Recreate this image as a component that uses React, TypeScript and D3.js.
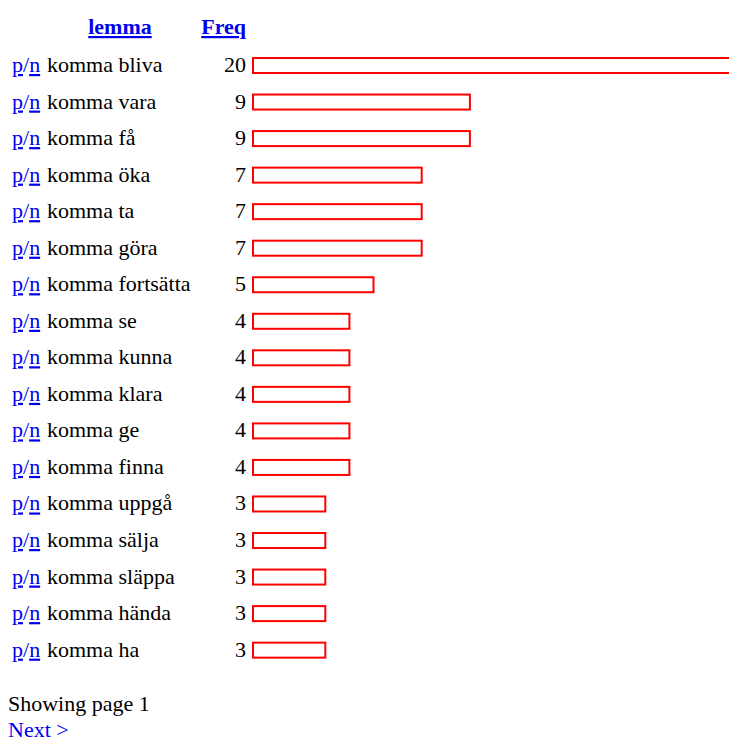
import { useRef, useEffect } from 'react';
import { select, scaleLinear, scaleBand } from 'd3';

const lemmas = [
  'komma bliva',
  'komma vara',
  'komma få',
  'komma öka',
  'komma ta',
  'komma göra',
  'komma fortsätta',
  'komma se',
  'komma kunna',
  'komma klara',
  'komma ge',
  'komma finna',
  'komma uppgå',
  'komma sälja',
  'komma släppa',
  'komma hända',
  'komma ha',
];
const freqs = [20, 9, 9, 7, 7, 7, 5, 4, 4, 4, 4, 4, 3, 3, 3, 3, 3];

const WIDTH = 729;
const HEIGHT = 740;
const LINK = '#0000EE';
const FONT = 'Liberation Serif';

const STEP = 36.54;
const PAD_IN = 0.5895;
const PAD_OUT = 0.3;

const App = () => {
  const svgRef = useRef(null);

  useEffect(() => {
    const svg = select(svgRef.current);
    svg.selectAll('*').remove();

    const xScale = scaleLinear().domain([0, 20]).range([0, 482]);
    const y0 = 58 - PAD_OUT * STEP;
    const yScale = scaleBand()
      .domain(lemmas)
      .range([y0, y0 + STEP * (lemmas.length - PAD_IN + 2 * PAD_OUT)])
      .paddingInner(PAD_IN)
      .paddingOuter(PAD_OUT);

    const txt = (sel) => sel.attr('font-family', FONT).attr('font-size', 22);

    // headers
    txt(g_text(svg, 120, 34))
      .attr('text-anchor', 'middle')
      .attr('font-weight', 'bold')
      .attr('fill', LINK)
      .attr('text-decoration', 'underline')
      .text('lemma');
    txt(g_text(svg, 246, 34))
      .attr('text-anchor', 'end')
      .attr('font-weight', 'bold')
      .attr('fill', LINK)
      .attr('text-decoration', 'underline')
      .text('Freq');

    const rows = svg
      .selectAll('.row')
      .data(lemmas.map((name, i) => ({ name, value: freqs[i] })))
      .enter()
      .append('g')
      .attr('class', 'row');

    const baseline = (d) => yScale(d.name) + yScale.bandwidth() / 2 + 6.5;

    const label = txt(rows.append('text')).attr('x', 12).attr('y', baseline);
    txt(label.append('tspan')).attr('fill', LINK).attr('text-decoration', 'underline').text('p');
    txt(label.append('tspan')).attr('fill', LINK).text('/');
    txt(label.append('tspan')).attr('fill', LINK).attr('text-decoration', 'underline').text('n');
    txt(rows.append('text'))
      .attr('x', 47)
      .attr('y', baseline)
      .attr('fill', 'black')
      .text((d) => d.name);

    txt(rows.append('text'))
      .attr('x', 246)
      .attr('y', baseline)
      .attr('text-anchor', 'end')
      .attr('fill', 'black')
      .text((d) => d.value);

    rows
      .append('rect')
      .attr('x', 253)
      .attr('y', (d) => yScale(d.name))
      .attr('width', (d) => xScale(d.value))
      .attr('height', yScale.bandwidth())
      .attr('fill', 'white')
      .attr('stroke', 'red')
      .attr('stroke-width', 2);

    txt(g_text(svg, 8, 711)).attr('fill', 'black').text('Showing page 1');
    txt(g_text(svg, 8, 737)).attr('fill', LINK).text('Next >');
  }, []);

  return (
    <svg
      ref={svgRef}
      width={WIDTH}
      height={HEIGHT}
      style={{ position: 'absolute', left: 0, top: 0, display: 'block' }}
    />
  );
};

function g_text(parent, x, y) {
  return parent.append('text').attr('x', x).attr('y', y);
}

export default App;
